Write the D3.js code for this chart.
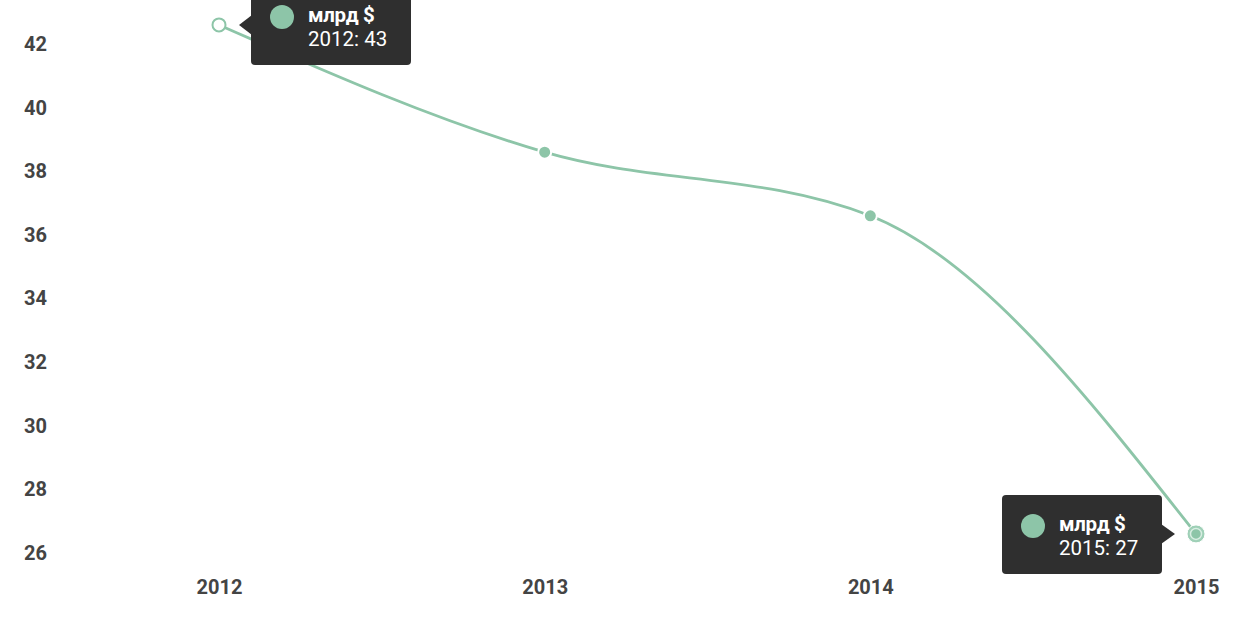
<!DOCTYPE html>
<html><head><meta charset="utf-8">
<script src="https://cdn.jsdelivr.net/npm/d3@7"></script>
<style>
html,body{margin:0;padding:0;background:#fff;}
svg{display:block;font-family:Roboto,"Noto Sans",sans-serif;}
</style></head>
<body><svg id="c" width="1250" height="635"></svg>
<script>
const years = ["2012","2013","2014","2015"];
const values = [42.6, 38.6, 36.6, 26.6];
const yTicks = [26,28,30,32,34,36,38,40,42];
const seriesName = "млрд $";
const tooltipIdx = [0, 3];

const color = "#8dc5a8";
const svg = d3.select("#c");
const x = d3.scalePoint().domain(years).range([219, 1196]);
const y = d3.scaleLinear().domain([26, 42]).range([553, 44]);

// y axis labels
const yAxis = svg.append("g").attr("transform","translate(47,0)")
  .call(d3.axisLeft(y).tickValues(yTicks).tickSize(0).tickPadding(0).tickFormat(d3.format("d")));
yAxis.select(".domain").remove();
yAxis.selectAll("text").attr("font-size",20).attr("font-weight","bold").attr("fill","#444")
  .attr("font-family","Roboto, sans-serif").attr("text-anchor","end");

// x axis labels
const xAxis = svg.append("g").attr("transform","translate(0,580)")
  .call(d3.axisBottom(x).tickSize(0).tickPadding(0));
xAxis.select(".domain").remove();
xAxis.selectAll("text").attr("font-size",20).attr("font-weight","bold").attr("fill","#444")
  .attr("font-family","Roboto, sans-serif");

const data = years.map((yr,i)=>({yr, v: values[i]}));
const line = d3.line().x(d=>x(d.yr)).y(d=>y(d.v)).curve(d3.curveMonotoneX);
svg.append("path").datum(data).attr("d",line).attr("fill","none")
  .attr("stroke",color).attr("stroke-width",2.8);

// normal points
svg.selectAll("circle.pt").data(data.filter((d,i)=>i===1||i===2)).enter().append("circle")
  .attr("class","pt").attr("cx",d=>x(d.yr)).attr("cy",d=>y(d.v)).attr("r",6.5)
  .attr("fill",color).attr("stroke","#fff").attr("stroke-width",2);

// hollow point (first)
svg.append("circle").attr("cx",x(data[0].yr)).attr("cy",y(data[0].v)).attr("r",6.5)
  .attr("fill","#fff").attr("stroke",color).attr("stroke-width",2);

// hovered point (last)
const last = data[3];
svg.append("circle").attr("cx",x(last.yr)).attr("cy",y(last.v)).attr("r",9)
  .attr("fill","#9fd0b7").attr("stroke","#fff").attr("stroke-width",1);
svg.append("circle").attr("cx",x(last.yr)).attr("cy",y(last.v)).attr("r",5.5)
  .attr("fill","#8dc5a8").attr("stroke","#d9eee3").attr("stroke-width",1.5);

// tooltips
function tooltip(d, side){
  const px = x(d.yr), py = y(d.v);
  const w = 160, h = 79, gap = 32;
  const g = svg.append("g");
  let left, tip;
  if (side === "right"){ left = px + gap; tip = [[left-12,py],[left+1,py-10],[left+1,py+10]]; }
  else { left = px - 34 - w; tip = [[left+w+13,py],[left+w-1,py-10],[left+w-1,py+10]]; }
  const top = py - 39;
  g.append("rect").attr("x",left).attr("y",top).attr("width",w).attr("height",h).attr("rx",4)
    .attr("fill","#2f2f2f");
  g.append("path").attr("d",d3.line()(tip)+"Z").attr("fill","#2f2f2f");
  g.append("circle").attr("cx",left+31).attr("cy",top+31).attr("r",12).attr("fill",color);
  g.append("text").attr("x",left+57).attr("y",top+36).attr("fill","#fff").attr("font-size",20.5)
    .attr("font-weight","bold").attr("letter-spacing",-0.3).text(seriesName);
  g.append("text").attr("x",left+57).attr("y",top+60).attr("fill","#fff").attr("font-size",20.5)
    .text(d.yr + ": " + Math.round(d.v));
}
tooltip(data[tooltipIdx[0]], "right");
tooltip(data[tooltipIdx[1]], "left");
</script></body></html>
